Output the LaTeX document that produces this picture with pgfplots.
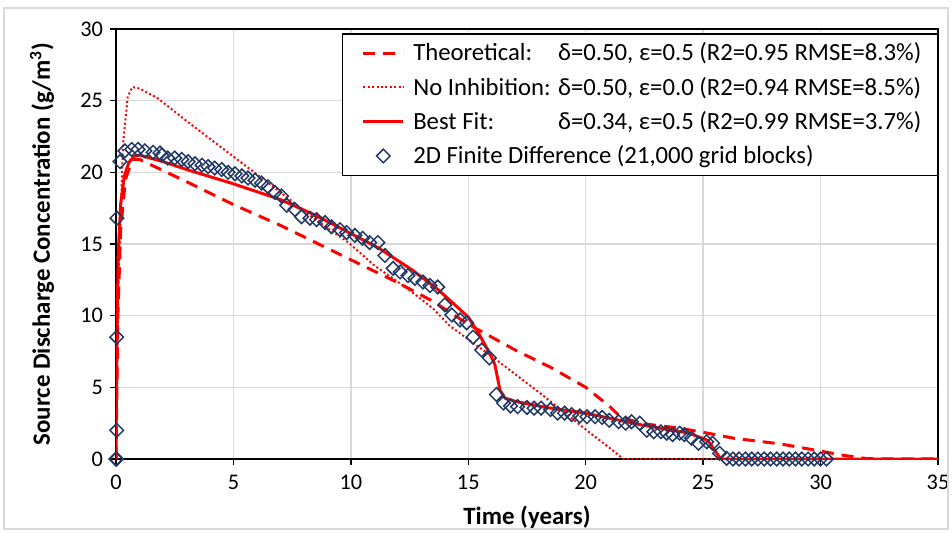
\documentclass[border=0pt]{standalone}
\usepackage{pgfplots}
\pgfplotsset{compat=1.18}
\usepackage{fontspec}
\setmainfont{Carlito}
\definecolor{navy}{RGB}{32,56,100}
\definecolor{gridgray}{RGB}{217,217,217}
\begin{document}
\begin{tikzpicture}
\begin{axis}[
  scale only axis, width=411bp, height=215bp,
  xmin=0, xmax=35, ymin=0, ymax=30,
  xtick={0,5,...,35}, ytick={0,5,...,30},
  grid=major, grid style={line width=0.75bp, color=gridgray},
  axis line style={line width=0.75bp, black},
  tick style={line width=0.75bp, black},
  tick align=outside, tick pos=left, major tick length=3bp,
  /pgf/number format/assume math mode=true,
  tick label style={font=\fontsize{11.2}{13}\selectfont},
  xticklabel style={yshift=-1.5bp},
  xlabel={\textbf{Time (years)}},
  ylabel={\textbf{Source Discharge Concentration (g/m\textsuperscript{3})}},
  label style={font=\fontsize{12.5}{15}\selectfont},
  xlabel style={at={(axis description cs:0.5,-0.135)}, anchor=center},
  ylabel style={at={(axis description cs:-0.09,0.5)}, anchor=center},
  legend image code/.code={\path[draw=none,fill=none] (0bp,0bp) -- (27.5bp,0bp);
    \draw[mark repeat=2,mark phase=2,#1] plot coordinates {(4.5bp,0bp) (14.5bp,0bp) (24.5bp,0bp)};},
  legend style={at={(rel axis cs:1,1)}, anchor=north east, yshift=-2bp,
    draw=black, line width=0.75bp, fill=white,
    font=\fontsize{12.4}{14.6}\selectfont, legend cell align=left,
    inner xsep=6bp, inner ysep=2.5bp, row sep=2.6bp,
    /tikz/every even column/.append style={column sep=0bp}},
]
\addplot[red, line width=1.5bp, dash pattern=on 6bp off 4bp] coordinates {
(0,0) (0.08,10) (0.2,16) (0.4,19.5) (0.7,20.9) (1,20.9) (3,19.35) (5,17.75) (7,16.3)
(10,13.9) (12,12.3) (13.5,11.0) (15,9.4) (17,7.6) (18.5,6.4) (20,5.0) (21,3.7)
(21.5,2.9) (22.5,2.45) (24,2.15) (25.2,1.8) (26.3,1.45) (28.3,1.05) (30,0.55)
(31,0.25) (32,0.02) (35,0)};
\addlegendentry{\rlap{Theoretical:}\hphantom{No Inhibition: }δ=0.50, ε=0.5 (R2=0.95 RMSE=8.3\%)}
\addplot[red, line width=1bp, dash pattern=on 1bp off 1.2bp] coordinates {
(0,0) (0.1,12) (0.3,22) (0.5,25.3) (0.7,25.95) (1.0,25.85) (1.75,25.2) (3.15,23.4)
(5,21.1) (6.85,18.8) (8.5,16.7) (9.9,15.1) (11,13.5) (12.4,11.9) (13.5,10.5)
(14.2,9.3) (15,8.35) (16.05,7.1) (18.05,4.6) (20.2,1.8) (21.0,0.8) (21.6,0) (35,0)};
\addlegendentry{No Inhibition: δ=0.50, ε=0.0 (R2=0.94 RMSE=8.5\%)}
\addplot[red, line width=1.5bp] coordinates {
(0,0) (0.02,5) (0.05,10) (0.1,14.5) (0.2,17.8) (0.35,19.7) (0.55,20.7) (0.8,21.15)
(1.0,21.2) (2,20.75) (3,20.2) (5,19.2) (7,18.1) (8.5,17.0) (9.8,15.9) (11.2,14.7)
(12.6,13.2) (13.65,11.9) (14.2,11.1) (15.0,9.9) (15.5,8.6) (15.9,7.4) (16.13,6.6)
(16.35,4.8) (16.56,4.25) (17.05,4.0) (18.5,3.55) (20,3.2) (22.3,2.4) (24.4,1.8)
(25.2,1.3) (25.5,0.6) (25.75,0) (35,0)};
\addlegendentry{\rlap{Best Fit:}\hphantom{No Inhibition: }δ=0.34, ε=0.5 (R2=0.99 RMSE=3.7\%)}
\addplot[only marks, mark=square, mark size=2.4bp, mark options={rotate=45, navy, line width=0.75bp, fill=none}] coordinates {
(0,0) (0.01,0) (0.02,0) (0.03,2.0) (0.03,8.5) (0.04,16.8) (0.17,20.75) (0.38,21.5)
(0.67,21.6) (0.94,21.6) (1.23,21.5) (1.58,21.4) (1.87,21.35) (1.95,21.2) (2.2,21.0)
(2.5,21.0) (2.8,20.9) (3.07,20.75) (3.36,20.6) (3.66,20.5) (3.92,20.4) (4.2,20.3)
(4.5,20.2) (4.77,20.0) (5.07,19.9) (5.36,19.75) (5.62,19.6) (5.92,19.45) (6.2,19.25)
(6.47,19.0) (6.77,18.6) (7.05,18.35) (7.27,17.7) (7.62,17.4) (7.9,16.9) (8.26,16.8)
(8.54,16.7) (8.9,16.5) (9.18,16.2) (9.54,16.0) (9.82,15.8) (10.17,15.6) (10.5,15.4)
(10.8,15.1) (11.15,15.1) (11.45,14.2) (11.8,13.3) (12.1,13.05) (12.43,12.8) (12.73,12.6)
(13.07,12.35) (13.37,12.1) (13.7,12.0) (14.0,10.75) (14.3,10.05) (14.65,9.7) (14.93,9.5)
(15.2,8.5) (15.57,7.6) (15.9,7.05) (16.2,4.5) (16.5,3.9) (16.8,3.7) (17.1,3.65)
(17.5,3.6) (17.8,3.55) (18.1,3.55) (18.5,3.45) (18.8,3.2) (19.1,3.2) (19.4,3.1)
(19.75,3.0) (20.05,2.95) (20.4,2.95) (20.7,2.9) (21.0,2.7) (21.4,2.6) (21.7,2.5)
(21.95,2.6) (22.3,2.5) (22.6,2.0) (22.9,1.9) (23.2,1.9) (23.45,1.8) (23.7,1.7)
(24.0,1.8) (24.2,1.7) (24.5,1.45) (24.8,1.1) (25.15,1.2) (25.4,1.1) (25.7,0.4)
(26.0,0.05) (26.27,0) (26.53,0) (26.8,0) (27.07,0) (27.33,0) (27.6,0) (27.87,0)
(28.13,0) (28.4,0) (28.67,0) (28.93,0) (29.2,0) (29.47,0) (29.73,0) (30.0,0) (30.25,0)};
\addlegendentry{2D Finite Difference (21,000 grid blocks)}
\coordinate (sw) at (rel axis cs:0,0);
\coordinate (ne) at (rel axis cs:1,1);
\end{axis}
\draw[gridgray, line width=1bp] ([xshift=-56bp,yshift=-35bp]sw) rectangle ([xshift=5bp,yshift=10.5bp]ne);
\pgfresetboundingbox
\path ([xshift=-58bp,yshift=-37bp]sw) rectangle ([xshift=7bp,yshift=14.5bp]ne);
\end{tikzpicture}
\end{document}
